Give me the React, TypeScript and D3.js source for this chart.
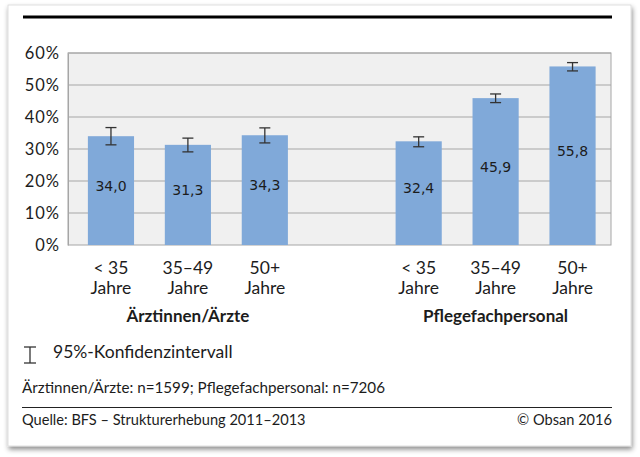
import { useEffect, useRef } from 'react';
import { axisLeft, scaleBand, scaleLinear, select } from 'd3';

const slots = ['a0', 'a1', 'a2', 'gap', 'b0', 'b1', 'b2'];
const barSlots = ['a0', 'a1', 'a2', 'b0', 'b1', 'b2'];
const values = [34.0, 31.3, 34.3, 32.4, 45.9, 55.8];
const ciLow = [31.3, 29.1, 31.9, 30.7, 44.5, 54.4];
const ciHigh = [36.7, 33.4, 36.6, 33.8, 47.2, 57.0];
const ageTop = ['< 35', '35–49', '50+', '< 35', '35–49', '50+'];
const ageBottom = ['Jahre', 'Jahre', 'Jahre', 'Jahre', 'Jahre', 'Jahre'];
const groups = [
  { label: 'Ärztinnen/Ärzte', from: 'a0', to: 'a2' },
  { label: 'Pflegefachpersonal', from: 'b0', to: 'b2' },
];
const yTicks = [0, 10, 20, 30, 40, 50, 60];

const W = 640;
const H = 457;
const font = 'Lato, "Open Sans", sans-serif';
const ink = '#1c1c1c';

export default function App() {
  const svgRef = useRef<SVGSVGElement | null>(null);

  useEffect(() => {
    const svgEl = svgRef.current;
    if (!svgEl) return;
    const svg = select(svgEl);
    svg.selectAll('*').remove();

    const plot = { left: 68, right: 611, top: 53, bottom: 245 };

    const x = scaleBand<string>().domain(slots).range([72.5, plot.right]).paddingInner(0.4).paddingOuter(0.2);
    const y = scaleLinear().domain([0, 60]).range([plot.bottom, plot.top]);

    const defs = svg.append('defs');
    const f = defs.append('filter').attr('id', 'shadow').attr('x', '-5%').attr('y', '-5%').attr('width', '112%').attr('height', '115%');
    f.append('feDropShadow').attr('dx', 1).attr('dy', 3).attr('stdDeviation', 2.5).attr('flood-color', '#000').attr('flood-opacity', 0.45);

    svg.append('rect').attr('width', W).attr('height', H).attr('fill', '#ffffff');

    // card
    svg.append('rect')
      .attr('x', 8).attr('y', 5).attr('width', 623).attr('height', 441)
      .attr('fill', '#fff').attr('stroke', '#d8d8d8').attr('stroke-width', 0.8)
      .attr('filter', 'url(#shadow)');

    // top rule
    svg.append('line').attr('x1', 23).attr('x2', 612).attr('y1', 17).attr('y2', 17)
      .attr('stroke', '#000').attr('stroke-width', 3);

    // plot area
    svg.append('rect')
      .attr('x', plot.left).attr('y', plot.top)
      .attr('width', plot.right - plot.left).attr('height', plot.bottom - plot.top)
      .attr('fill', '#f0f0f0').attr('stroke', '#a6a6a6').attr('stroke-width', 1);

    svg.append('g').selectAll('line').data(yTicks.slice(1)).join('line')
      .attr('x1', plot.left).attr('x2', plot.right)
      .attr('y1', (d) => y(d)).attr('y2', (d) => y(d))
      .attr('stroke', '#a6a6a6').attr('stroke-width', 1);

    const yAxis = svg.append('g')
      .attr('transform', `translate(${plot.left},0)`)
      .call(axisLeft(y).tickValues(yTicks).tickSize(0).tickPadding(8).tickFormat((d) => `${d}%`));
    yAxis.select('.domain').attr('stroke', '#a6a6a6');
    yAxis.selectAll('text')
      .attr('font-family', font).attr('font-size', 16.5).attr('letter-spacing', 1).attr('fill', ink);

    // bars
    const bars = svg.append('g');
    bars.selectAll('rect').data(values).join('rect')
      .attr('x', (_, i) => x(barSlots[i]) ?? 0)
      .attr('width', x.bandwidth())
      .attr('y', (d) => y(d))
      .attr('height', (d) => y(0) - y(d))
      .attr('fill', '#80a9d9');

    bars.selectAll('text').data(values).join('text')
      .attr('x', (_, i) => (x(barSlots[i]) ?? 0) + x.bandwidth() / 2)
      .attr('y', (d) => (y(d) + y(0)) / 2)
      .attr('text-anchor', 'middle')
      .attr('font-family', '"DejaVu Sans", Verdana, sans-serif').attr('font-size', 14)
      .attr('fill', ink)
      .text((d) => d.toFixed(1).replace('.', ','));

    // error bars
    const err = svg.append('g').attr('stroke', '#333').attr('stroke-width', 1.3);
    values.forEach((_, i) => {
      const cx = (x(barSlots[i]) ?? 0) + x.bandwidth() / 2;
      err.append('line').attr('x1', cx).attr('x2', cx).attr('y1', y(ciLow[i])).attr('y2', y(ciHigh[i]));
      err.append('line').attr('x1', cx - 5.5).attr('x2', cx + 5.5).attr('y1', y(ciLow[i])).attr('y2', y(ciLow[i]));
      err.append('line').attr('x1', cx - 5.5).attr('x2', cx + 5.5).attr('y1', y(ciHigh[i])).attr('y2', y(ciHigh[i]));
    });

    // category labels
    const cats = svg.append('g').attr('font-family', font).attr('font-size', 17.5).attr('fill', ink).attr('text-anchor', 'middle');
    barSlots.forEach((s, i) => {
      const cx = (x(s) ?? 0) + x.bandwidth() / 2;
      cats.append('text').attr('x', cx).attr('y', 274).text(ageTop[i]);
      cats.append('text').attr('x', cx).attr('y', 294).text(ageBottom[i]);
    });

    groups.forEach((g) => {
      const cx = ((x(g.from) ?? 0) + (x(g.to) ?? 0) + x.bandwidth()) / 2;
      svg.append('text').attr('x', cx).attr('y', 322)
        .attr('text-anchor', 'middle').attr('font-family', font).attr('font-size', 17).attr('font-weight', 700)
        .attr('fill', ink).text(g.label);
    });

    // legend
    const lg = svg.append('g').attr('stroke', '#333').attr('stroke-width', 1.3);
    lg.append('line').attr('x1', 30).attr('x2', 30).attr('y1', 347).attr('y2', 363);
    lg.append('line').attr('x1', 24).attr('x2', 36).attr('y1', 347).attr('y2', 347);
    lg.append('line').attr('x1', 24).attr('x2', 36).attr('y1', 363).attr('y2', 363);
    svg.append('text').attr('x', 53).attr('y', 358)
      .attr('font-family', font).attr('font-size', 17.5).attr('fill', ink).text('95%-Konfidenzintervall');

    svg.append('text').attr('x', 22).attr('y', 393)
      .attr('font-family', font).attr('font-size', 15.2).attr('fill', ink)
      .text('Ärztinnen/Ärzte: n=1599; Pflegefachpersonal: n=7206');

    svg.append('line').attr('x1', 22).attr('x2', 612).attr('y1', 407.5).attr('y2', 407.5)
      .attr('stroke', '#222').attr('stroke-width', 1.2);

    svg.append('text').attr('x', 22).attr('y', 425)
      .attr('font-family', font).attr('font-size', 14.6).attr('fill', ink)
      .text('Quelle: BFS – Strukturerhebung 2011–2013');
    svg.append('text').attr('x', 612).attr('y', 425).attr('text-anchor', 'end')
      .attr('font-family', font).attr('font-size', 14.6).attr('fill', ink)
      .text('© Obsan 2016');
  }, []);

  return (
    <div style={{ position: 'absolute', left: 0, top: 0 }}>
      <svg ref={svgRef} width={W} height={H} style={{ display: 'block' }} />
    </div>
  );
}
